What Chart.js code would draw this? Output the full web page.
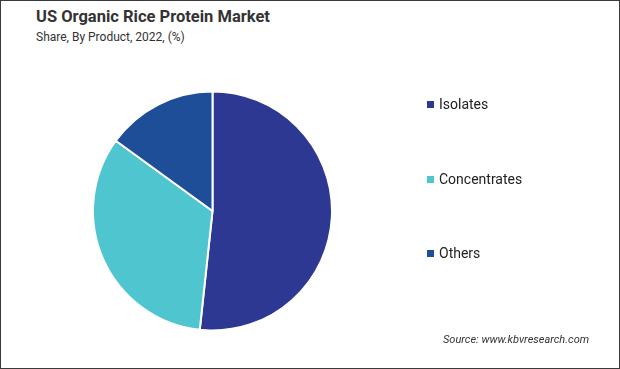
<!doctype html>
<html>
<head>
<meta charset="utf-8">
<title>US Organic Rice Protein Market</title>
<script src="https://cdn.jsdelivr.net/npm/chart.js@4.4.1/dist/chart.umd.min.js"></script>
<style>
	body { margin: 0; background: #fff; }
	#frame {
		position: relative; width: 620px; height: 369px; box-sizing: border-box;
		border: 1px solid #3a3a3a; overflow: hidden; font-family: Roboto, sans-serif; color: #222;
	}
	#title { position: absolute; left: 35px; top: 6px; font-size: 16.5px; font-weight: bold; color: #333; }
	#subtitle { position: absolute; left: 35px; top: 29px; font-size: 12px; color: #333; }
	#canvas { position: absolute; left: -1px; top: -1px; }
	#legend { position: absolute; left: 426px; top: 0; font-size: 14px; }
	.item { position: absolute; white-space: nowrap; }
	.box { display: inline-block; width: 7px; height: 7px; margin-right: 5px; vertical-align: 1px; }
	#source { position: absolute; left: 442px; top: 332px; font-size: 11px; font-style: italic; color: #333; }
</style>
</head>
<body>
<div id="frame">
	<div id="title">US Organic Rice Protein Market</div>
	<div id="subtitle">Share, By Product, 2022, (%)</div>
	<canvas id="canvas" width="620" height="369"></canvas>
	<div id="legend"></div>
	<div id="source">Source: www.kbvresearch.com</div>
</div>
<script>
var products = ["Isolates", "Concentrates", "Others"];
var shares   = [51.7, 33.3, 15.0];
var colours  = ["#2d3892", "#4fc5d0", "#1f4e98"];

var legendTops = [95, 170, 244];

var legend = document.getElementById("legend");
products.forEach(function(name, i) {
	var div = document.createElement("div");
	div.className = "item";
	div.style.top = legendTops[i] + "px";
	div.innerHTML = '<span class="box" style="background:' + colours[i] + '"></span>' + name;
	legend.appendChild(div);
});

new Chart(document.getElementById("canvas"), {
	type: "pie",
	data: {
		labels: products,
		datasets: [{
			data: shares,
			backgroundColor: colours,
			borderColor: "#ffffff",
			borderWidth: 2
		}]
	},
	options: {
		responsive: false,
		animation: false,
		layout: { padding: { left: 92, right: 287, top: 90, bottom: 37 } },
		plugins: {
			legend: { display: false },
			tooltip: { enabled: false }
		}
	}
});
</script>
</body>
</html>
